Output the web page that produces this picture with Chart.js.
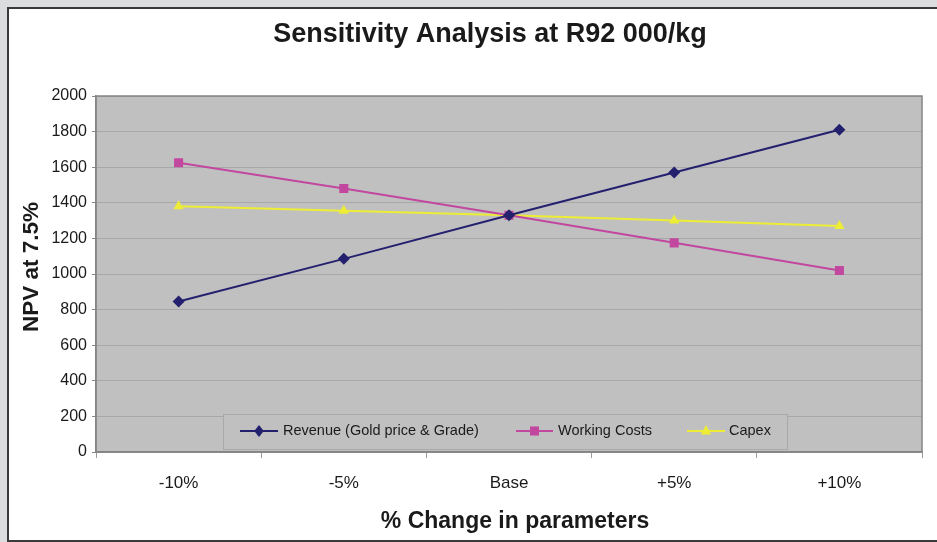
<!DOCTYPE html>
<html>
<head>
<meta charset="utf-8">
<script src="https://cdn.jsdelivr.net/npm/chart.js@4"></script>
<style>
  html, body { margin: 0; padding: 0; background: #dcdddf; width: 937px; height: 542px; overflow: hidden; }
  #frame { position: absolute; left: 7px; top: 7px; width: 940px; height: 531px; border: 2px solid #3a3a3a; border-right: none; background: #ffffff; }
  #c { position: absolute; left: 0; top: 0; }
</style>
</head>
<body>
<div id="frame"></div>
<canvas id="c" width="937" height="542"></canvas>
<script>
const chartTitle = "Sensitivity Analysis at R92 000/kg";
const xAxisTitle = "% Change in parameters";
const yAxisTitle = "NPV at 7.5%";
const categories = ["-10%", "-5%", "Base", "+5%", "+10%"];
const revenue = [845, 1085, 1330, 1570, 1810];
const workingCosts = [1625, 1480, 1330, 1175, 1020];
const capex = [1380, 1355, 1330, 1300, 1270];
const seriesNames = ["Revenue (Gold price & Grade)", "Working Costs", "Capex"];

const FONT = '"Liberation Sans", Arial, sans-serif';
const colors = ["#23206e", "#c2479f", "#eded35"];
const styles = ["rectRot", "rect", "triangle"];
const radii = [6, 6.4, 6];

const plotBg = {
  id: 'plotBg',
  beforeDraw(chart) {
    const {ctx, chartArea: a} = chart;
    ctx.save();
    ctx.fillStyle = '#c0c0c0';
    ctx.fillRect(a.left, a.top, a.right - a.left, a.bottom - a.top);
    ctx.restore();
  },
  afterDraw(chart) {
    const {ctx, chartArea: a} = chart;
    ctx.save();
    ctx.strokeStyle = '#858585';
    ctx.lineWidth = 1.5;
    ctx.strokeRect(a.left, a.top, a.right - a.left, a.bottom - a.top);
    ctx.fillStyle = '#1a1a1a';
    ctx.textAlign = 'center';
    ctx.textBaseline = 'middle';
    ctx.font = 'bold 27px ' + FONT;
    ctx.fillText(chartTitle, 490, 35);
    ctx.font = 'bold 23px ' + FONT;
    ctx.fillText(xAxisTitle, 515, 522);
    ctx.font = 'bold 22.5px ' + FONT;
    ctx.save();
    ctx.translate(32, 267);
    ctx.rotate(-Math.PI / 2);
    ctx.fillText(yAxisTitle, 0, 0);
    ctx.restore();
    ctx.restore();
  }
};

function drawMarker(ctx, style, x, y, r, color) {
  ctx.fillStyle = color;
  ctx.beginPath();
  if (style === 'rectRot') {
    ctx.moveTo(x, y - r); ctx.lineTo(x + r * 0.8, y); ctx.lineTo(x, y + r); ctx.lineTo(x - r * 0.8, y); ctx.closePath();
  } else if (style === 'rect') {
    const s = r * Math.SQRT1_2;
    ctx.rect(x - s, y - s, 2 * s, 2 * s);
  } else {
    ctx.moveTo(x, y - r); ctx.lineTo(x + r * 0.87, y + r * 0.6); ctx.lineTo(x - r * 0.87, y + r * 0.6); ctx.closePath();
  }
  ctx.fill();
}

const legendBox = {
  id: 'legendBox',
  afterDatasetsDraw(chart) {
    const ctx = chart.ctx;
    ctx.save();
    ctx.fillStyle = '#c0c0c0';
    ctx.fillRect(223, 414, 564, 35);
    ctx.strokeStyle = '#a9a9a9';
    ctx.lineWidth = 1;
    ctx.strokeRect(223.5, 414.5, 564, 35);
    const entries = [
      {x0: 240, x1: 278, tx: 283},
      {x0: 516, x1: 553, tx: 558},
      {x0: 687, x1: 725, tx: 729}
    ];
    const cy = 431;
    ctx.font = '14.5px ' + FONT;
    ctx.textBaseline = 'middle';
    ctx.textAlign = 'left';
    entries.forEach((e, i) => {
      ctx.strokeStyle = colors[i];
      ctx.lineWidth = 2;
      ctx.beginPath(); ctx.moveTo(e.x0, cy); ctx.lineTo(e.x1, cy); ctx.stroke();
      drawMarker(ctx, styles[i], (e.x0 + e.x1) / 2, cy, radii[i], colors[i]);
      ctx.fillStyle = '#1a1a1a';
      ctx.fillText(seriesNames[i], e.tx, cy);
    });
    ctx.restore();
  }
};

const datasets = [revenue, workingCosts, capex].map((d, i) => ({
  label: seriesNames[i],
  data: d,
  borderColor: colors[i],
  backgroundColor: colors[i],
  borderWidth: 2,
  pointStyle: styles[i],
  pointRadius: radii[i],
  pointHoverRadius: radii[i],
  pointBorderWidth: 0,
  tension: 0
}));

new Chart(document.getElementById('c'), {
  type: 'line',
  data: { labels: categories, datasets: datasets },
  options: {
    responsive: false,
    animation: false,
    events: [],
    layout: { padding: { top: 96, right: 15, left: 0, bottom: 0 } },
    plugins: { legend: { display: false }, title: { display: false }, tooltip: { enabled: false } },
    scales: {
      x: {
        offset: true,
        grid: { offset: true, drawOnChartArea: false, color: '#9a9a9a', tickLength: 6, lineWidth: 1 },
        border: { color: '#858585', width: 1.5 },
        ticks: { color: '#1a1a1a', font: { family: FONT, size: 17 }, padding: 15, maxRotation: 0 },
        afterFit(s) { s.height = 90; }
      },
      y: {
        min: 0, max: 2000,
        grid: { color: '#a8a8a8', tickColor: '#858585', tickLength: 4, lineWidth: 1 },
        border: { color: '#858585', width: 1.5 },
        ticks: { stepSize: 200, color: '#1a1a1a', font: { family: FONT, size: 16 }, padding: 5, callback: v => String(v) },
        afterFit(s) { s.width = 96; }
      }
    }
  },
  plugins: [plotBg, legendBox]
});
</script>
</body>
</html>
